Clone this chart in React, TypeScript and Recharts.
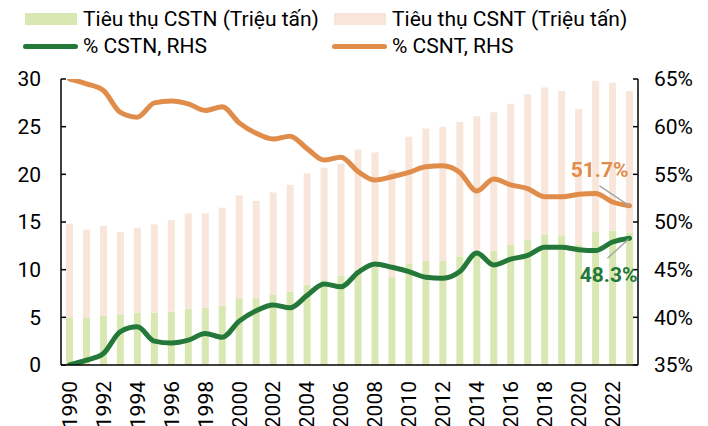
import React from "react";
import { ComposedChart, Bar, Line, XAxis, YAxis } from "recharts";

const years = [
  "1990", "1991", "1992", "1993", "1994", "1995", "1996", "1997", "1998", "1999",
  "2000", "2001", "2002", "2003", "2004", "2005", "2006", "2007", "2008", "2009",
  "2010", "2011", "2012", "2013", "2014", "2015", "2016", "2017", "2018", "2019",
  "2020", "2021", "2022", "2023",
];

// Tiêu thụ CSTN (Triệu tấn)
const cstn = [
  5.0, 5.0, 5.2, 5.3, 5.5, 5.5, 5.6, 5.9, 6.0, 6.2,
  7.0, 7.0, 7.4, 7.7, 8.4, 8.9, 9.4, 10.0, 10.8, 9.2,
  10.6, 10.9, 10.9, 11.4, 12.0, 12.0, 12.6, 13.1, 13.7, 13.6,
  12.6, 14.0, 14.1, 13.9,
];

// Tiêu thụ CSNT (Triệu tấn)
const csnt = [
  9.8, 9.2, 9.4, 8.65, 8.9, 9.25, 9.6, 10.0, 9.9, 10.3,
  10.8, 10.2, 10.7, 11.2, 11.7, 11.8, 11.7, 12.6, 11.5, 11.25,
  13.35, 13.9, 14.1, 14.1, 14.1, 14.5, 14.8, 15.3, 15.4, 15.15,
  14.25, 15.8, 15.5, 14.85,
];

// % CSTN, RHS
const pctCstn = [
  35.0, 35.5, 36.2, 38.5, 39.0, 37.5, 37.3, 37.6, 38.3, 37.9,
  39.6, 40.7, 41.3, 41.0, 42.3, 43.5, 43.2, 44.7, 45.6, 45.25,
  44.8, 44.2, 44.1, 44.8, 46.75, 45.5, 46.1, 46.5, 47.35, 47.35,
  47.1, 47.0, 47.9, 48.3,
];

// % CSNT, RHS
const pctCsnt = [
  65.0, 64.5, 63.8, 61.5, 61.0, 62.5, 62.7, 62.4, 61.7, 62.1,
  60.4, 59.3, 58.7, 59.0, 57.7, 56.5, 56.8, 55.3, 54.4, 54.75,
  55.2, 55.8, 55.9, 55.2, 53.25, 54.5, 53.9, 53.5, 52.65, 52.65,
  52.9, 53.0, 52.1, 51.7,
];

const leftTicks = [0, 5, 10, 15, 20, 25, 30];
const rightTicks = [35, 40, 45, 50, 55, 60, 65];

const GREEN_BAR = "#d9e8b3";
const PINK_BAR = "#f8e6da";
const GREEN_LINE = "#247839";
const ORANGE_LINE = "#e08c4a";
const FONT = "Roboto, sans-serif";
const FS = 21;

const data = years.map((year, i) => ({
  year,
  cstn: cstn[i],
  csnt: csnt[i],
  pctCstn: pctCstn[i],
  pctCsnt: pctCsnt[i],
}));

const last = years.length - 1;

function LeftTick(props: any) {
  const { x, y, payload } = props;
  return (
    <g>
      <line x1={x} x2={x + 5} y1={y} y2={y} stroke="#000" strokeWidth={1.5} />
      <text x={x - 20} y={y} dy="0.35em" textAnchor="end" fontSize={FS} fontFamily={FONT} fill="#000">
        {payload.value}
      </text>
    </g>
  );
}

function RightTick(props: any) {
  const { x, y, payload } = props;
  return (
    <g>
      <line x1={x - 5} x2={x} y1={y} y2={y} stroke="#000" strokeWidth={1.5} />
      <text x={x + 16} y={y} dy="0.35em" textAnchor="start" fontSize={FS} fontFamily={FONT} fill="#000">
        {payload.value}%
      </text>
    </g>
  );
}

function YearTick(props: any) {
  const { x, y, payload } = props;
  const ty = y + 16;
  return (
    <text
      x={x}
      y={ty}
      dy="0.35em"
      transform={`rotate(-90 ${x} ${ty})`}
      textAnchor="end"
      fontSize={FS}
      fontFamily={FONT}
      fill="#000"
    >
      {payload.value}
    </text>
  );
}

function CsntLabel(props: any) {
  const { x, y, index, value } = props;
  if (index !== last) return null;
  return (
    <g>
      <line x1={x - 30} y1={y - 20} x2={x} y2={y} stroke="#a6a6a6" strokeWidth={1.5} />
      <text x={x - 1} y={y - 29} textAnchor="end" fontSize={FS} fontWeight="bold" fontFamily={FONT} fill={ORANGE_LINE}>
        {value}%
      </text>
    </g>
  );
}

function CstnLabel(props: any) {
  const { x, y, index, value } = props;
  if (index !== last) return null;
  return (
    <g>
      <line x1={x - 22} y1={y + 20} x2={x - 1} y2={y + 1} stroke="#a6a6a6" strokeWidth={1.5} />
      <text x={x + 8} y={y + 44} textAnchor="end" fontSize={FS} fontWeight="bold" fontFamily={FONT} fill={GREEN_LINE}>
        {value}%
      </text>
    </g>
  );
}

const legendItems = [
  { label: "Tiêu thụ CSTN (Triệu tấn)", color: GREEN_BAR, kind: "bar", left: 25, top: 0 },
  { label: "Tiêu thụ CSNT (Triệu tấn)", color: PINK_BAR, kind: "bar", left: 334, top: 0 },
  { label: "% CSTN, RHS", color: GREEN_LINE, kind: "line", left: 23, top: 27 },
  { label: "% CSNT, RHS", color: ORANGE_LINE, kind: "line", left: 332, top: 27 },
];

function ChartLegend() {
  return (
    <div style={{ position: "absolute", left: 0, top: 0, width: 708, height: 60 }}>
      {legendItems.map((item) => (
        <div
          key={item.label}
          style={{
            position: "absolute",
            left: item.left,
            top: item.top + 6,
            display: "flex",
            alignItems: "center",
            height: 26,
            fontFamily: FONT,
            fontSize: FS,
            color: "#000",
            whiteSpace: "nowrap",
          }}
        >
          {item.kind === "bar" ? (
            <span style={{ display: "inline-block", width: 52, height: 12, background: item.color, marginRight: 6 }} />
          ) : (
            <span
              style={{
                display: "inline-block",
                width: 55,
                height: 5,
                borderRadius: 3,
                background: item.color,
                marginRight: 5,
              }}
            />
          )}
          <span>{item.label}</span>
        </div>
      ))}
    </div>
  );
}

export default function App() {
  return (
    <div style={{ position: "absolute", left: 0, top: 0, width: 708, height: 426, background: "#fff" }}>
      <ComposedChart
        width={708}
        height={426}
        data={data}
        margin={{ top: 79, right: 0, bottom: 0, left: 0 }}
        barSize={7}
      >
        <XAxis
          dataKey="year"
          height={61}
          interval={1}
          tickSize={0}
          tickMargin={0}
          tick={<YearTick />}
          axisLine={{ stroke: "#000", strokeWidth: 1.5 }}
          tickLine={false}
        />
        <YAxis
          yAxisId="left"
          orientation="left"
          width={61}
          domain={[0, 30]}
          ticks={leftTicks}
          tickSize={0}
          tickMargin={0}
          tick={<LeftTick />}
          tickLine={false}
          axisLine={{ stroke: "#000", strokeWidth: 1.5 }}
        />
        <YAxis
          yAxisId="right"
          orientation="right"
          width={70}
          domain={[35, 65]}
          ticks={rightTicks}
          tickSize={0}
          tickMargin={0}
          tick={<RightTick />}
          tickLine={false}
          axisLine={{ stroke: "#000", strokeWidth: 1.5 }}
          allowDataOverflow
        />
        <Bar yAxisId="left" dataKey="cstn" stackId="a" fill={GREEN_BAR} isAnimationActive={false} />
        <Bar yAxisId="left" dataKey="csnt" stackId="a" fill={PINK_BAR} isAnimationActive={false} />
        <Line
          yAxisId="right"
          type="monotone"
          dataKey="pctCsnt"
          stroke={ORANGE_LINE}
          strokeWidth={5}
          strokeLinecap="round"
          dot={false}
          activeDot={false}
          label={<CsntLabel />}
          isAnimationActive={false}
        />
        <Line
          yAxisId="right"
          type="monotone"
          dataKey="pctCstn"
          stroke={GREEN_LINE}
          strokeWidth={5}
          strokeLinecap="round"
          dot={false}
          activeDot={false}
          label={<CstnLabel />}
          isAnimationActive={false}
        />
      </ComposedChart>
      <ChartLegend />
    </div>
  );
}
